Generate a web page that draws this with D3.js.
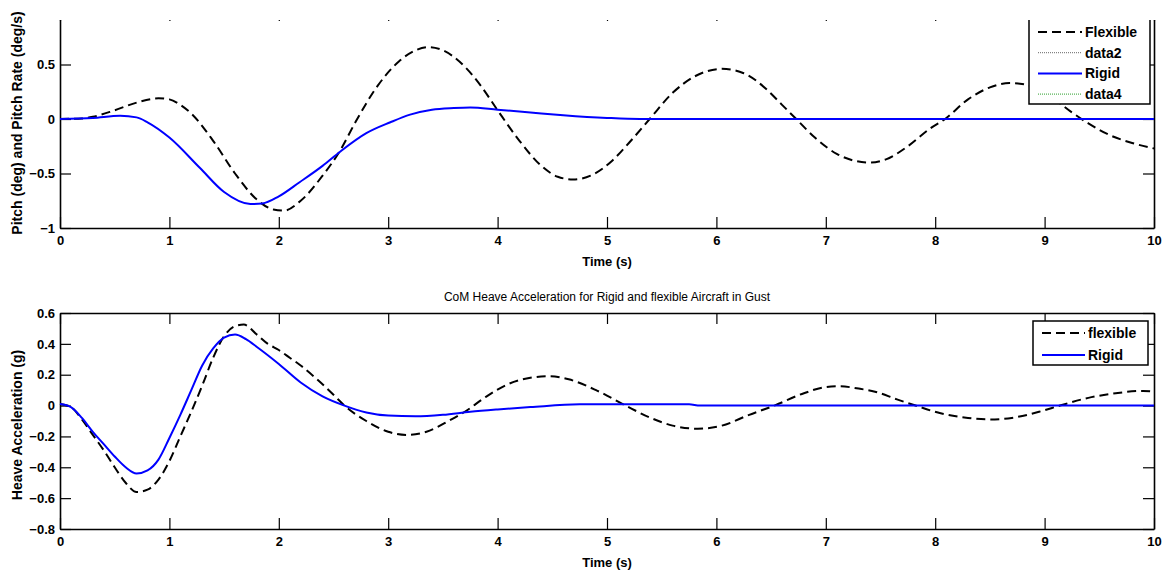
<!DOCTYPE html>
<html>
<head>
<meta charset="utf-8">
<script src="https://cdn.jsdelivr.net/npm/d3@7"></script>
<style>
  body { margin: 0; background: #fff; }
  svg { display: block; font-family: "Liberation Sans", Arial, sans-serif; }
  .tick text { font-size: 13px; font-weight: bold; fill: #000; }
  .lbl { font-size: 13px; font-weight: bold; }
</style>
</head>
<body>
<svg id="chart" width="1166" height="570"></svg>
<script>
// time ticks shared by both panels
var xTicks = [0, 1, 2, 3, 4, 5, 6, 7, 8, 9, 10];
var pitchTicks = [-1, -0.5, 0, 0.5, 1];
var heaveTicks = [-0.8, -0.6, -0.4, -0.2, 0, 0.2, 0.4, 0.6];

// top panel: pitch response, [time, value]
var pitchFlexible = [[0,0],[0.2,0.005],[0.3,0.02],[0.5,0.08],[0.7,0.15],[0.9,0.19],[1.0,0.18],[1.1,0.13],
  [1.2,0.05],[1.4,-0.2],[1.6,-0.5],[1.8,-0.74],[1.95,-0.83],[2.05,-0.84],[2.2,-0.75],[2.4,-0.52],
  [2.56,-0.29],[2.7,-0.03],[2.9,0.3],[3.1,0.53],[3.25,0.63],[3.37,0.66],[3.5,0.63],[3.7,0.48],
  [3.85,0.3],[4.0,0.08],[4.2,-0.2],[4.4,-0.43],[4.55,-0.53],[4.69,-0.555],[4.85,-0.52],[5.05,-0.38],
  [5.2,-0.22],[5.39,0],[5.6,0.24],[5.8,0.39],[6.05,0.46],[6.25,0.42],[6.45,0.28],[6.6,0.13],
  [6.73,0],[6.9,-0.17],[7.1,-0.32],[7.25,-0.38],[7.4,-0.4],[7.55,-0.37],[7.75,-0.25],[7.95,-0.09],
  [8.09,0],[8.3,0.18],[8.5,0.29],[8.68,0.33],[8.85,0.31],[9.05,0.21],[9.25,0.06],[9.4,-0.04],
  [9.6,-0.15],[9.8,-0.22],[10,-0.27]];
var pitchRigid = [[0,0],[0.3,0.01],[0.55,0.03],[0.7,0.015],[0.8,-0.03],[1.0,-0.17],[1.28,-0.45],
  [1.5,-0.67],[1.74,-0.78],[1.85,-0.775],[2.0,-0.71],[2.19,-0.58],[2.4,-0.43],[2.56,-0.3],
  [2.8,-0.13],[3.02,-0.03],[3.2,0.04],[3.4,0.085],[3.6,0.1],[3.75,0.105],[4.0,0.085],[4.3,0.06],
  [4.6,0.035],[5.0,0.01],[5.3,0],[10,0]];

// bottom panel: heave acceleration, [time, value]
var heaveFlexible = [[0,0.01],[0.1,-0.01],[0.2,-0.09],[0.3,-0.19],[0.4,-0.29],[0.5,-0.4],[0.6,-0.5],
  [0.7,-0.56],[0.8,-0.545],[0.9,-0.48],[1.0,-0.36],[1.1,-0.2],[1.2,-0.04],[1.3,0.13],[1.4,0.31],
  [1.5,0.45],[1.6,0.515],[1.68,0.525],[1.8,0.46],[1.9,0.4],[2.0,0.36],[2.1,0.31],[2.2,0.26],
  [2.35,0.17],[2.5,0.07],[2.6,0],[2.8,-0.1],[3.0,-0.17],[3.17,-0.19],[3.35,-0.17],[3.55,-0.1],
  [3.7,-0.04],[3.9,0.06],[4.1,0.14],[4.3,0.18],[4.47,0.19],[4.65,0.17],[4.9,0.1],[5.17,0],
  [5.4,-0.08],[5.6,-0.13],[5.83,-0.15],[6.05,-0.13],[6.3,-0.06],[6.53,0],[6.8,0.08],[7.0,0.12],
  [7.13,0.125],[7.3,0.11],[7.45,0.09],[7.65,0.04],[7.82,0],[8.05,-0.05],[8.3,-0.08],[8.5,-0.09],
  [8.7,-0.08],[8.95,-0.04],[9.14,0],[9.4,0.05],[9.65,0.08],[9.9,0.095],[10,0.09]];
var heaveRigid = [[0,0.01],[0.1,-0.01],[0.2,-0.08],[0.3,-0.17],[0.4,-0.25],[0.5,-0.33],[0.6,-0.4],
  [0.7,-0.44],[0.8,-0.42],[0.9,-0.35],[1.0,-0.21],[1.1,-0.06],[1.2,0.1],[1.3,0.26],[1.4,0.37],
  [1.5,0.44],[1.6,0.46],[1.7,0.43],[1.8,0.38],[2.0,0.27],[2.2,0.15],[2.4,0.06],[2.6,0],[2.8,-0.045],
  [3.0,-0.065],[3.25,-0.07],[3.5,-0.06],[3.75,-0.04],[4.0,-0.025],[4.3,-0.01],[4.75,0.008],
  [5.75,0.008],[5.85,0],[10,0]];

var topLegend = [
  { name: 'Flexible', color: '#000', dash: '9,5', width: 2 },
  { name: 'data2', color: '#666', dash: '1,1', width: 1 },
  { name: 'Rigid', color: '#0000ff', dash: null, width: 2 },
  { name: 'data4', color: '#2ca02c', dash: '1,1', width: 1 }
];
var bottomLegend = [
  { name: 'flexible', color: '#000', dash: '9,5', width: 2 },
  { name: 'Rigid', color: '#0000ff', dash: null, width: 2 }
];

var svg = d3.select('#chart');
var x = d3.scaleLinear().domain([0, 10]).range([60, 1154]);

svg.append('defs').append('clipPath').attr('id', 'crop')
    .append('rect').attr('x', 0).attr('y', 20).attr('width', 1166).attr('height', 260);

function drawPanel(opts) {
    var y = opts.y,
        g = svg.append('g');

    if (opts.clip) g.attr('clip-path', 'url(#crop)');

    var top = y.range()[1], bottom = y.range()[0];

    g.append('g').attr('transform', 'translate(0,' + bottom + ')')
        .call(d3.axisBottom(x).tickValues(xTicks).tickSizeInner(-11).tickSizeOuter(0).tickPadding(8));
    g.append('g').attr('transform', 'translate(0,' + top + ')')
        .call(d3.axisTop(x).tickValues(xTicks).tickSizeInner(-11).tickSizeOuter(0).tickFormat(''));
    var yAxis = g.append('g').attr('transform', 'translate(60,0)')
        .call(d3.axisLeft(y).tickValues(opts.yTicks).tickSizeInner(-11).tickSizeOuter(0).tickPadding(5)
            .tickFormat(function(d) { return d3.format('')(+d.toFixed(1)); }));
    g.append('g').attr('transform', 'translate(1154,0)')
        .call(d3.axisRight(y).tickValues(opts.yTicks).tickSizeInner(-11).tickSizeOuter(0).tickFormat(''));

    g.selectAll('.domain').attr('stroke-width', 1.6);
    g.selectAll('.tick line').attr('stroke-width', 1.2);
    // the top "1" label sits in the cropped-away strip
    if (opts.clip) yAxis.selectAll('.tick text').filter(function(d) { return d === 1; }).remove();

    var line = d3.line()
        .x(function(d) { return x(d[0]); })
        .y(function(d) { return y(d[1]); })
        .curve(d3.curveMonotoneX);

    g.append('path').datum(opts.flexible)
        .attr('fill', 'none').attr('stroke', '#000').attr('stroke-width', 2)
        .attr('stroke-dasharray', '9,5').attr('d', line);
    g.append('path').datum(opts.rigid)
        .attr('fill', 'none').attr('stroke', '#0000ff').attr('stroke-width', 2).attr('d', line);

    // legend
    var lg = opts.legend;
    g.append('rect').attr('x', lg.x).attr('y', lg.y).attr('width', lg.w).attr('height', lg.h)
        .attr('fill', '#fff').attr('stroke', '#000').attr('stroke-width', 1.5);
    var rows = g.selectAll('.row').data(lg.items).enter().append('g')
        .attr('transform', function(d, i) { return 'translate(0,' + (lg.row0 + i * lg.step) + ')'; });
    rows.append('line').attr('x1', lg.x + lg.lineX[0]).attr('x2', lg.x + lg.lineX[1])
        .attr('stroke', function(d) { return d.color; })
        .attr('stroke-width', function(d) { return d.width; })
        .attr('stroke-dasharray', function(d) { return d.dash; });
    rows.append('text').attr('x', lg.x + lg.textX).attr('dy', '0.35em')
        .attr('font-size', 14).attr('font-weight', 'bold').text(function(d) { return d.name; });

    // labels
    svg.append('text').attr('class', 'lbl').attr('text-anchor', 'middle')
        .attr('x', 607).attr('y', bottom + 38).text('Time (s)');
    svg.append('text').attr('text-anchor', 'middle').attr('font-size', 14).attr('font-weight', 'bold')
        .attr('transform', 'translate(' + opts.ylabelPos[0] + ',' + opts.ylabelPos[1] + ') rotate(-90)')
        .attr('dy', '0.35em').text(opts.ylabel);
}

drawPanel({
    y: d3.scaleLinear().domain([-1, 1]).range([228, 10]),
    yTicks: pitchTicks,
    flexible: pitchFlexible,
    rigid: pitchRigid,
    clip: true,
    legend: { x: 1029, y: 14, w: 121, h: 90, row0: 32, step: 20.7, lineX: [9, 53], textX: 56, items: topLegend },
    ylabel: 'Pitch (deg) and Pitch Rate (deg/s)',
    ylabelPos: [17, 123]
});

drawPanel({
    y: d3.scaleLinear().domain([-0.8, 0.6]).range([529, 313]),
    yTicks: heaveTicks,
    flexible: heaveFlexible,
    rigid: heaveRigid,
    clip: false,
    legend: { x: 1033, y: 321, w: 115, h: 44, row0: 333, step: 22, lineX: [9, 52], textX: 55, items: bottomLegend },
    ylabel: 'Heave Acceleration (g)',
    ylabelPos: [17, 425]
});

svg.append('text').attr('text-anchor', 'middle').attr('x', 607).attr('y', 301)
    .attr('font-size', 12).text('CoM Heave Acceleration for Rigid and flexible Aircraft in Gust');
</script>
</body>
</html>
